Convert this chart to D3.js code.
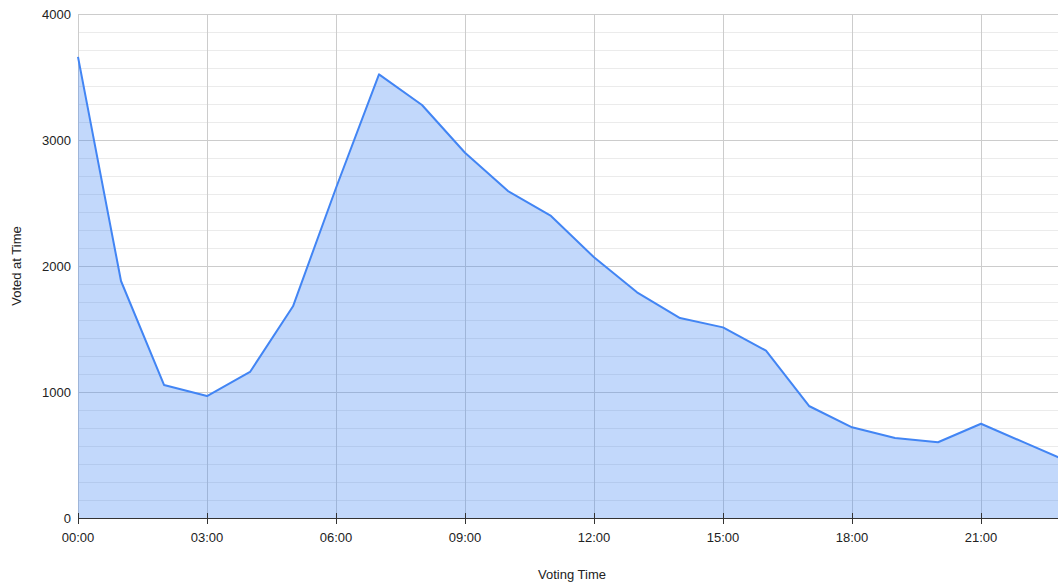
<!DOCTYPE html>
<html>
<head>
<meta charset="utf-8">
<script src="https://cdn.jsdelivr.net/npm/d3@7"></script>
<style>
  html, body { margin: 0; padding: 0; background: #fff; }
  svg { display: block; font-family: "Liberation Sans", Arial, sans-serif; }
</style>
</head>
<body>
<svg id="chart" width="1058" height="585"></svg>
<script>
const hours = [0,1,2,3,4,5,6,7,8,9,10,11,12,13,14,15,16,17,18,19,20,21,22,23];
const votes = [3660,1881,1056,968,1159,1680,2619,3521,3278,2899,2595,2397,2069,1791,1587,1513,1328,889,720,635,601,748,600,452];
const xTickHours = [0,3,6,9,12,15,18,21];
const xTickLabels = ["00:00","03:00","06:00","09:00","12:00","15:00","18:00","21:00"];
const yTicks = [0,1000,2000,3000,4000];

(function () {
const svg = d3.select("#chart");
const mLeft = 78, mRight = 1067, mTop = 14, mBottom = 518;

const x = d3.scaleLinear().domain([0, 23]).range([mLeft, mRight]);
const y = d3.scaleLinear().domain([0, 4000]).range([mBottom, mTop]);

// minor gridlines (7 subdivisions per major)
const minor = [];
for (let i = 0; i < 4; i++) for (let j = 1; j < 7; j++) minor.push(i*1000 + j*1000/7);
svg.append("g").selectAll("line").data(minor).join("line")
  .attr("x1", mLeft).attr("x2", 1058)
  .attr("y1", d => Math.round(y(d)) + 0.5).attr("y2", d => Math.round(y(d)) + 0.5)
  .attr("stroke", "#ebebeb").attr("stroke-width", 1);

// major horizontal gridlines
svg.append("g").selectAll("line").data(yTicks.filter(d => d > 0)).join("line")
  .attr("x1", mLeft).attr("x2", 1058)
  .attr("y1", d => Math.round(y(d)) + 0.5).attr("y2", d => Math.round(y(d)) + 0.5)
  .attr("stroke", "#cccccc").attr("stroke-width", 1);

// vertical gridlines
svg.append("g").selectAll("line").data(xTickHours).join("line")
  .attr("x1", d => Math.round(x(d)) + 0.5).attr("x2", d => Math.round(x(d)) + 0.5)
  .attr("y1", mTop).attr("y2", mBottom)
  .attr("stroke", "#cccccc").attr("stroke-width", 1);

const pts = hours.map((h, i) => [h, votes[i]]);

// area
svg.append("path").datum(pts)
  .attr("d", d3.area().x(d => x(d[0])).y0(y(0)).y1(d => y(d[1])))
  .attr("fill", "#4285f4").attr("fill-opacity", 0.32);

// line
svg.append("path").datum(pts)
  .attr("d", d3.line().x(d => x(d[0])).y(d => y(d[1])))
  .attr("fill", "none").attr("stroke", "#4285f4").attr("stroke-width", 2)
  .attr("stroke-linejoin", "round");

// x axis baseline
svg.append("line").attr("x1", mLeft).attr("x2", 1058)
  .attr("y1", mBottom + 0.5).attr("y2", mBottom + 0.5)
  .attr("stroke", "#333").attr("stroke-width", 1);

// x ticks
svg.append("g").selectAll("line").data(xTickHours).join("line")
  .attr("x1", d => Math.round(x(d)) + 0.5).attr("x2", d => Math.round(x(d)) + 0.5)
  .attr("y1", mBottom - 5).attr("y2", mBottom + 6)
  .attr("stroke", "#333").attr("stroke-width", 1);

svg.append("g").selectAll("text").data(xTickHours).join("text")
  .attr("x", d => x(d)).attr("y", 542)
  .attr("text-anchor", "middle").attr("font-size", 13).attr("fill", "#222")
  .text((d, i) => xTickLabels[i]);

// y labels
svg.append("g").selectAll("text").data(yTicks).join("text")
  .attr("x", 71).attr("y", d => y(d) + 5)
  .attr("text-anchor", "end").attr("font-size", 13).attr("fill", "#222")
  .text(d => d);

// axis titles
svg.append("text").attr("x", 572).attr("y", 579)
  .attr("text-anchor", "middle").attr("font-size", 13).attr("fill", "#222")
  .text("Voting Time");
svg.append("text").attr("transform", "translate(21,266) rotate(-90)")
  .attr("text-anchor", "middle").attr("font-size", 13).attr("fill", "#222")
  .text("Voted at Time");
})();
</script>
</body>
</html>
